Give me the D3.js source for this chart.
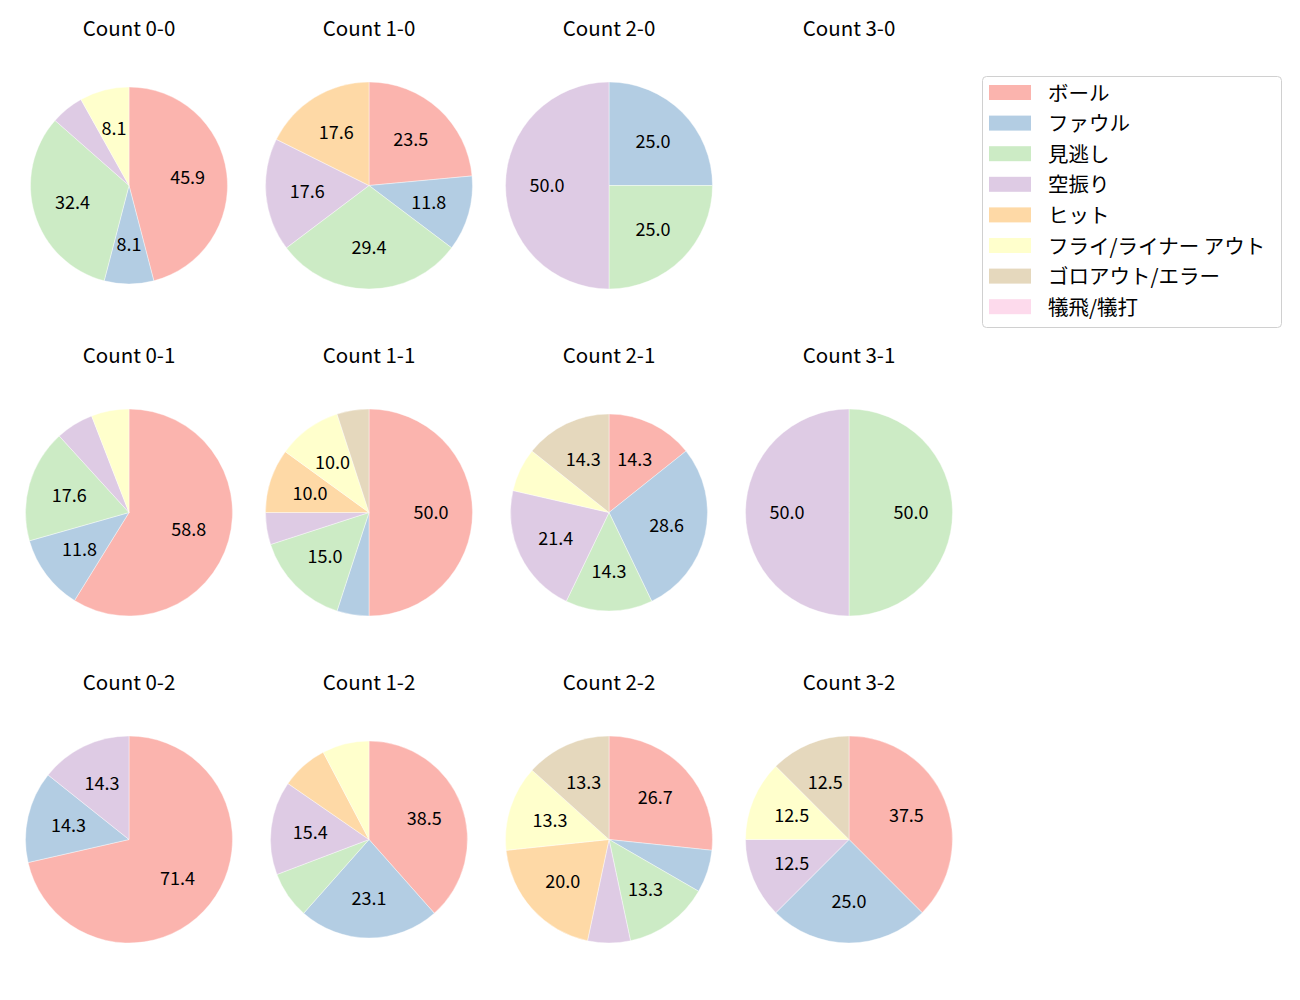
<!DOCTYPE html>
<html>
<head>
<meta charset="utf-8">
<script src="https://cdn.jsdelivr.net/npm/d3@7"></script>
<style>
  body { margin: 0; background: #fff; }
  text { font-family: "Noto Sans CJK JP", "Noto Sans", sans-serif; }
</style>
</head>
<body>
<script>
// result categories (legend order = wedge order)
var categories = ["ボール", "ファウル", "見逃し", "空振り", "ヒット", "フライ/ライナー アウト", "ゴロアウト/エラー", "犠飛/犠打"];
var colors = ["#fbb4ae", "#b3cde3", "#ccebc5", "#decbe4", "#fed9a6", "#ffffcc", "#e5d8bd", "#fddaec"];

// counts: balls 0..3 (columns) x strikes 0..2 (rows)
var balls = [0, 1, 2, 3];
var strikes = [0, 1, 2];

// pitch counts per category for each ball-strike count
var c00 = [17, 3, 12, 2, 0, 3, 0, 0];
var c10 = [4, 2, 5, 3, 3, 0, 0, 0];
var c20 = [0, 1, 1, 2, 0, 0, 0, 0];
var c30 = [0, 0, 0, 0, 0, 0, 0, 0];
var c01 = [10, 2, 3, 1, 0, 1, 0, 0];
var c11 = [10, 1, 3, 1, 2, 2, 1, 0];
var c21 = [2, 4, 2, 3, 0, 1, 2, 0];
var c31 = [0, 0, 1, 1, 0, 0, 0, 0];
var c02 = [5, 1, 0, 1, 0, 0, 0, 0];
var c12 = [5, 3, 1, 2, 1, 1, 0, 0];
var c22 = [4, 1, 2, 1, 3, 2, 2, 0];
var c32 = [3, 2, 0, 1, 0, 1, 1, 0];

var panelData = [
  [c00, c10, c20, c30],
  [c01, c11, c21, c31],
  [c02, c12, c22, c32]
];

window.onload = () => {
  var width = 1300, height = 1000;

  var svg = d3.select("body").append("svg")
    .attr("width", width)
    .attr("height", height);

  // grid layout
  var x = d3.scalePoint().domain(balls).range([129, 849]);
  var y = d3.scalePoint().domain(strikes).range([185.5, 839.5]);

  // a few of the pies come out a bit smaller in the original
  var smaller = ["0-0", "2-1", "1-2"];

  var pie = d3.pie().sort(null).value(d => d).startAngle(0).endAngle(2 * Math.PI);

  strikes.forEach(function (s, r) {
    balls.forEach(function (b, c) {
      var key = b + "-" + s;
      var vals = panelData[r][c];
      var total = d3.sum(vals);
      var radius = smaller.includes(key) ? 98.5 : 103.5;

      var g = svg.append("g")
        .attr("transform", "translate(" + x(b) + "," + y(s) + ")");

      g.append("text")
        .attr("x", 0)
        .attr("y", -159)
        .attr("text-anchor", "middle")
        .attr("dominant-baseline", "central")
        .style("font-size", "20.5px")
        .text("Count " + key);

      if (total === 0) return;

      var arc = d3.arc().innerRadius(0).outerRadius(radius);
      var labelArc = d3.arc().innerRadius(radius * 0.6).outerRadius(radius * 0.6);
      var arcs = pie(vals);

      g.selectAll("path")
        .data(arcs.filter(d => d.value > 0))
        .enter().append("path")
        .attr("d", arc)
        .attr("fill", d => colors[d.index])
        .attr("stroke", "#fff")
        .attr("stroke-width", 0.4);

      g.selectAll("text.pct")
        .data(arcs.filter(d => d.value / total * 100 >= 8))
        .enter().append("text")
        .attr("class", "pct")
        .attr("transform", d => "translate(" + labelArc.centroid(d) + ")")
        .attr("dy", -1.5)
        .attr("text-anchor", "middle")
        .attr("dominant-baseline", "central")
        .style("font-size", "18px")
        .text(d => (d.value / total * 100).toFixed(1));
    });
  });

  // legend
  var legend = svg.append("g").attr("transform", "translate(982,76)");
  legend.append("rect")
    .attr("x", 0.5).attr("y", 0.5)
    .attr("width", 299).attr("height", 251)
    .attr("rx", 4)
    .attr("fill", "#fff")
    .attr("stroke", "#d0d0d0");

  var rows = legend.selectAll("g.item")
    .data(categories)
    .enter().append("g")
    .attr("class", "item")
    .attr("transform", (d, i) => "translate(0," + (16.5 + i * 30.6) + ")");

  rows.append("rect")
    .attr("x", 7).attr("y", -7.5)
    .attr("width", 42).attr("height", 15)
    .attr("fill", (d, i) => colors[i]);

  rows.append("text")
    .attr("x", 66)
    .attr("y", -1)
    .attr("dominant-baseline", "central")
    .style("font-size", "20.5px")
    .text(d => d);
};
</script>
</body>
</html>
